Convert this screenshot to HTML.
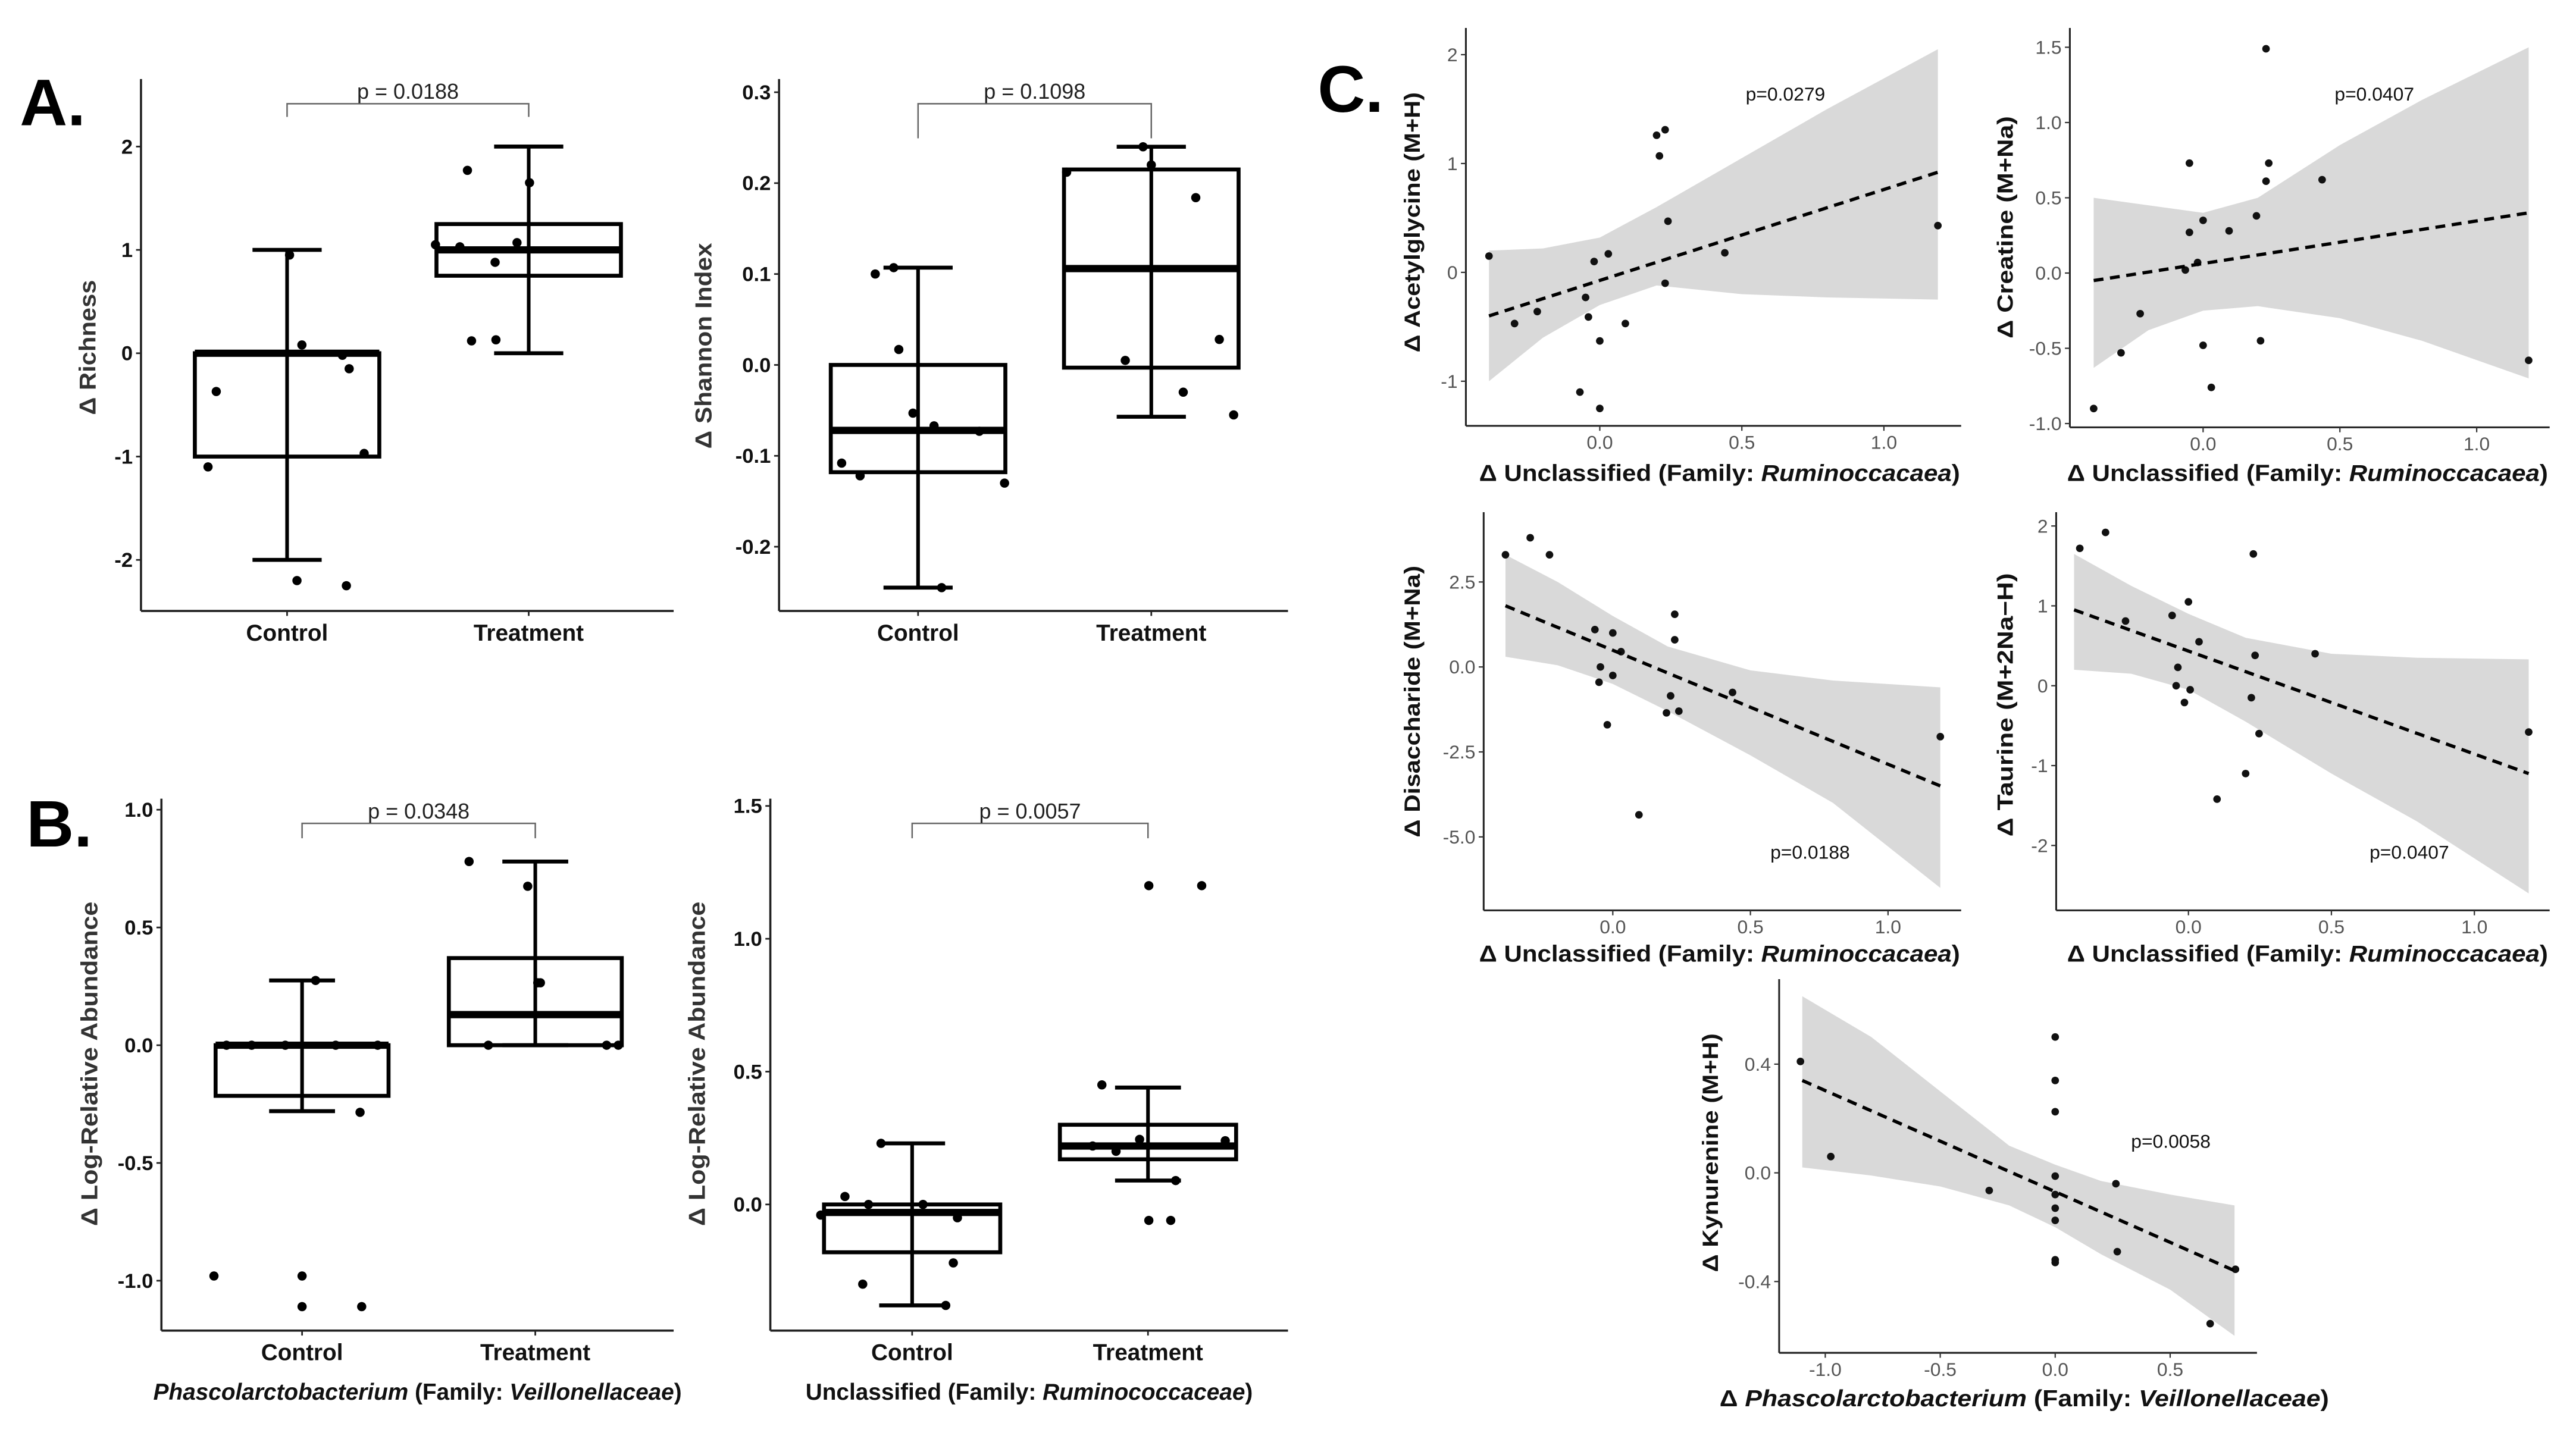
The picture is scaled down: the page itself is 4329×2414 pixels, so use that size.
<!DOCTYPE html>
<html><head><meta charset="utf-8">
<style>
html,body{margin:0;padding:0;background:#fff;}
svg{display:block;}
text{font-family:"Liberation Sans",sans-serif;}
.tickA{font-weight:bold;font-size:12.5px;fill:#111;}
.tickC{font-size:11.5px;fill:#555;font-family:"Liberation Sans Narrow","Liberation Sans",sans-serif;}
.ttl{font-weight:bold;fill:#111;}
</style></head>
<body>
<svg id="fig" width="4329" height="2414" viewBox="0 0 1564 872" preserveAspectRatio="none" xmlns="http://www.w3.org/2000/svg">
<text x="12" y="76" font-size="40" font-weight="bold">A.</text>
<text x="16" y="514" font-size="40" font-weight="bold">B.</text>
<text x="800" y="68" font-size="40" font-weight="bold">C.</text>
</svg>
<script>
// ---- Panel A/B box plot data ----
const boxCats = ["Control","Treatment"];
const richCtrlBox = [-2,-1,0,0,1];
const richTrtBox = [0,0.75,1,1.25,2];
const richCtrlPts = [-1.1,-0.37,0.95,0.08,-2.2,-2.25,-0.02,-0.15,-0.97];
const richCtrlJit = [-48,-43,1.5,9,6,36,33.6,37.7,46.8];
const richTrtPts = [1.05,1.03,1.77,0.12,0.88,0.13,1.07,1.65];
const richTrtJit = [-56.6,-41.8,-37.2,-34.7,-20.4,-19.9,-7.1,0.5];
const richTicks = [2,1,0,-1,-2];

const shanCtrlBox = [-0.245,-0.118,-0.072,0.0,0.107];
const shanTrtBox = [-0.057,-0.003,0.106,0.215,0.24];
const shanCtrlPts = [-0.108,-0.122,0.1,0.107,0.017,-0.053,-0.067,-0.245,-0.073,-0.13];
const shanCtrlJit = [-46.4,-35.2,-26,-14.8,-11.7,-3.1,9.7,14.3,37.2,52.5];
const shanTrtPts = [0.212,0.005,0.24,0.22,-0.03,0.184,0.028,-0.055];
const shanTrtJit = [-51.4,-15.8,-5,0,19.4,27,41.3,50];
const shanTicks = [0.3,0.2,0.1,0.0,-0.1,-0.2];

const phasCtrlBox = [-0.28,-0.215,0,0,0.275];
const phasTrtBox = [0,0,0.13,0.37,0.78];
const phasCtrlPts = [-0.98,-0.98,-1.11,-1.11,-0.285,0.275,0,0,0,0,0];
const phasCtrlJit = [-53.5,0,0,36.2,35.2,8.2,-45.9,-30.6,-10.2,20.4,45.9];
const phasTrtPts = [0.78,0.675,0.265,0.265,0,0,0];
const phasTrtJit = [-40.2,-4.6,1.5,3.1,-28.5,43.3,50.4];
const phasTicks = [1.0,0.5,0.0,-0.5,-1.0];

const unclCtrlBox = [-0.38,-0.18,-0.03,0.0,0.23];
const unclTrtBox = [0.09,0.17,0.22,0.3,0.44];
const unclCtrlPts = [0.03,0,-0.04,0,-0.05,-0.22,-0.3,-0.38,0.23];
const unclCtrlJit = [-40.8,-26.5,-55.5,6.6,27.5,25,-30,20.4,-18.9];
const unclTrtPts = [0.45,0.22,0.2,0.245,0.24,0.09,-0.06,-0.06,1.2,1.2];
const unclTrtJit = [-28,-33.6,-19.4,-5.1,46.9,16.8,0.5,13.8,0.5,32.6];
const unclTicks = [1.5,1.0,0.5,0.0];

// ---- Panel C scatter data ----
const acetX = [-0.39,-0.30,-0.22,-0.05,-0.04,-0.02,0,-0.07,0.0,0.03,0.09,0.20,0.21,0.23,0.23,0.24,0.44,1.19];
const acetY = [0.15,-0.47,-0.36,-0.23,-0.41,0.1,-0.63,-1.1,-1.25,0.17,-0.47,1.26,1.07,1.31,-0.1,0.47,0.18,0.43];
const acetFit = [-0.4,0.92];
const acetBandX = [-0.39,-0.2,0,0.2,0.5,0.8,1.19];
const acetBandUp = [0.2,0.22,0.32,0.6,1.05,1.5,2.05];
const acetBandLo = [-1.0,-0.6,-0.3,-0.12,-0.2,-0.23,-0.25];

const creaX = [-0.40,-0.30,-0.23,-0.065,-0.05,-0.05,-0.02,0,0,0.03,0.095,0.195,0.21,0.23,0.23,0.24,0.435,1.19];
const creaY = [-0.9,-0.53,-0.27,0.02,0.27,0.73,0.07,0.35,-0.48,-0.76,0.28,0.38,-0.45,0.61,1.49,0.73,0.62,-0.58];
const creaFit = [-0.05,0.4];
const creaBandX = [-0.4,-0.2,0,0.2,0.5,0.8,1.19];
const creaBandUp = [0.5,0.45,0.4,0.5,0.85,1.15,1.5];
const creaBandLo = [-0.63,-0.38,-0.25,-0.22,-0.3,-0.45,-0.7];

const disaX = [-0.39,-0.30,-0.23,-0.065,-0.045,-0.05,-0.02,0,0,0.03,0.095,0.195,0.21,0.225,0.225,0.24,0.435,1.19];
const disaY = [3.3,3.8,3.3,1.1,0,-0.45,-1.7,1.0,-0.25,0.45,-4.35,-1.35,-0.85,0.8,1.55,-1.3,-0.75,-2.05];
const disaFit = [1.8,-3.5];
const disaBandX = [-0.39,-0.2,0,0.2,0.5,0.8,1.19];
const disaBandUp = [3.3,2.5,1.5,0.6,-0.1,-0.4,-0.6];
const disaBandLo = [0.3,0.05,-0.5,-1.3,-2.6,-4.0,-6.5];

const taurX = [-0.38,-0.29,-0.22,-0.057,-0.043,-0.037,-0.014,0,0.006,0.037,0.1,0.2,0.22,0.227,0.233,0.247,0.443,1.19];
const taurY = [1.72,1.92,0.81,0.88,0,0.23,-0.21,1.05,-0.05,0.55,-1.42,-1.1,-0.15,1.65,0.38,-0.6,0.4,-0.58];
const taurFit = [0.95,-1.1];
const taurBandX = [-0.4,-0.2,0,0.2,0.5,0.8,1.19];
const taurBandUp = [1.65,1.25,0.9,0.6,0.4,0.35,0.33];
const taurBandLo = [0.2,0.15,-0.05,-0.45,-1.1,-1.7,-2.6];

const kynuX = [-1.108,-0.976,-0.287,0,0,0,0,0,0,0,0,0,0.264,0.27,0.674,0.784];
const kynuY = [0.41,0.06,-0.065,0.5,0.34,0.225,-0.012,-0.08,-0.13,-0.175,-0.32,-0.33,-0.04,-0.29,-0.555,-0.355];
const kynuFit = [0.34,-0.36];
const kynuBandX = [-1.1,-0.8,-0.5,-0.2,0,0.2,0.5,0.78];
const kynuBandUp = [0.65,0.5,0.3,0.1,0.03,-0.03,-0.08,-0.12];
const kynuBandLo = [0.02,-0.01,-0.05,-0.12,-0.2,-0.3,-0.43,-0.6];

const NS='http://www.w3.org/2000/svg';
const svg=document.getElementById('fig');
function mk(tag,attrs,parent){const e=document.createElementNS(NS,tag);for(const k in attrs)e.setAttribute(k,attrs[k]);(parent||svg).appendChild(e);return e;}
function lin(v0,p0,v1,p1){return v=>p0+(v-v0)*(p1-p0)/(v1-v0);}

function boxPanel(c){
  const g=mk('g',{});
  
  
  const y=lin(c.yv0,c.yp0,c.yv1,c.yp1);
  let e=mk('line',{x1:c.ax,y1:c.top,x2:c.ax,y2:c.bot,stroke:'#222','stroke-width':1.3},g);
  
  
  e=mk('line',{x1:c.ax,y1:c.bot,x2:c.xend,y2:c.bot,stroke:'#222','stroke-width':1.3},g);
  
  
  c.ticks.forEach(t=>{
    const ty=y(t);
    const tk=mk('line',{x1:c.ax-3,y1:ty,x2:c.ax,y2:ty,stroke:'#222','stroke-width':1},g);
    
    
    const lb=mk('text',{x:c.ax-5,y:ty+4.3,'text-anchor':'end',class:'tickA'},g);
    lb.textContent=c.fmt(t);
    
    
  });
  const boxes=[c.cb,c.tb], pts=[c.cp,c.tp], jit=[c.cj,c.tj];
  boxCats.forEach((cat,i)=>{
    const cx=c.cx[i], b=boxes[i];
    const tk=mk('line',{x1:cx,y1:c.bot,x2:cx,y2:c.bot+3,stroke:'#222','stroke-width':1},g);
    
    
    const lb=mk('text',{x:cx,y:c.bot+18,'text-anchor':'middle','font-size':14,'font-weight':'bold',fill:'#111'},g);
    lb.textContent=cat;
    
    
    const w=mk('line',{x1:cx,y1:y(b[0]),x2:cx,y2:y(b[4]),stroke:'#000','stroke-width':2.2},g);
    
    
    [b[0],b[4]].forEach(v=>{
      const cap=mk('line',{x1:cx-c.cap,y1:y(v),x2:cx+c.cap,y2:y(v),stroke:'#000','stroke-width':2.4},g);
      
      
    });
    const r=mk('rect',{x:cx-c.hw,y:y(b[3]),width:2*c.hw,height:Math.max(0.1,y(b[1])-y(b[3])),fill:'none',stroke:'#000','stroke-width':2.4},g);
    
    
    const m=mk('line',{x1:cx-c.hw,y1:y(b[2]),x2:cx+c.hw,y2:y(b[2]),stroke:'#000','stroke-width':4.4},g);
    
    
    pts[i].forEach((v,k)=>{
      const d=mk('circle',{cx:cx+jit[i][k],cy:y(v),r:2.8,fill:'#000'},g);
      
      
    });
  });
  const br=mk('path',{d:`M${c.cx[0]},${c.brY+c.legL} V${c.brY} H${c.cx[1]} V${c.brY+c.legR}`,fill:'none',stroke:'#666','stroke-width':0.9},g);
  
  
  const pt=mk('text',{x:(c.cx[0]+c.cx[1])/2,y:c.brY-3,'text-anchor':'middle','font-size':13,fill:'#222'},g);
  pt.textContent=c.p;
  
  
  const yt=mk('text',{x:0,y:0,transform:`translate(${c.ytx},${c.yty}) rotate(-90)`,'text-anchor':'middle','font-size':14,'font-weight':'bold',fill:'#333',textLength:c.ytl,lengthAdjust:'spacingAndGlyphs'},g);
  yt.textContent=c.ytitle;
  
  
  if(c.xtitle){
    const xt=mk('text',{x:(c.ax+c.xend)/2,y:c.bot+42,'text-anchor':'middle','font-size':14,'font-weight':'bold',fill:'#111'},g);
    xt.innerHTML=c.xtitle;
    
    
  }
}
const f1=t=>t<0?'-'+Math.abs(t):String(t);
const f1d=t=>(t<0?'-':'')+Math.abs(t).toFixed(1);
boxPanel({name:'richness-plot',ax:85.6,top:48,bot:371,xend:409,yv0:0,yp0:214.5,yv1:2,yp1:89,ticks:richTicks,fmt:f1,cx:[174.3,321],hw:56,cap:21,
  cb:richCtrlBox,tb:richTrtBox,cp:richCtrlPts,cj:richCtrlJit,tp:richTrtPts,tj:richTrtJit,brY:63,legL:8,legR:8,p:'p = 0.0188',ytitle:'\u0394 Richness',ytx:58,yty:211,ytl:82});
boxPanel({name:'shannon-plot',ax:473,top:48,bot:371,xend:782,yv0:0,yp0:221.6,yv1:0.3,yp1:56,ticks:shanTicks,fmt:f1d,cx:[557.4,699],hw:53,cap:21,
  cb:shanCtrlBox,tb:shanTrtBox,cp:shanCtrlPts,cj:shanCtrlJit,tp:shanTrtPts,tj:shanTrtJit,brY:63,legL:21,legR:21,p:'p = 0.1098',ytitle:'\u0394 Shannon Index',ytx:432,yty:210,ytl:125});
boxPanel({name:'phascolarctobacterium-plot',ax:98,top:485,bot:808,xend:409,yv0:0,yp0:634.7,yv1:1,yp1:491.7,ticks:phasTicks,fmt:f1d,cx:[183.4,325],hw:52.5,cap:20,
  cb:phasCtrlBox,tb:phasTrtBox,cp:phasCtrlPts,cj:phasCtrlJit,tp:phasTrtPts,tj:phasTrtJit,brY:500,legL:9,legR:9,p:'p = 0.0348',ytitle:'\u0394 Log-Relative Abundance',ytx:59,yty:646,ytl:197,
  xtitle:'<tspan font-style="italic">Phascolarctobacterium</tspan> (Family: <tspan font-style="italic">Veillonellaceae</tspan>)'});
boxPanel({name:'unclassified-ruminococcaceae-plot',ax:467.7,top:485,bot:808,xend:782,yv0:0,yp0:731.4,yv1:1.5,yp1:489.4,ticks:unclTicks,fmt:f1d,cx:[553.8,697],hw:53.5,cap:20,
  cb:unclCtrlBox,tb:unclTrtBox,cp:unclCtrlPts,cj:unclCtrlJit,tp:unclTrtPts,tj:unclTrtJit,brY:500,legL:9,legR:9,p:'p = 0.0057',ytitle:'\u0394 Log-Relative Abundance',ytx:428,yty:646,ytl:197,
  xtitle:'Unclassified (Family: <tspan font-style="italic">Ruminococcaceae</tspan>)'});

function scatterPanel(c){
  const g=mk('g',{});
  
  
  const x=lin(c.xv0,c.xp0,c.xv1,c.xp1), y=lin(c.yv0,c.yp0,c.yv1,c.yp1);
  let d='';
  c.bx.forEach((v,i)=>{d+=(i?'L':'M')+x(v)+','+y(c.bu[i]);});
  for(let i=c.bx.length-1;i>=0;i--){d+='L'+x(c.bx[i])+','+y(c.bl[i]);}
  const band=mk('path',{d:d+'Z',fill:'#d9d9d9',stroke:'none'},g);
  
  
  let e=mk('line',{x1:c.ax,y1:c.top,x2:c.ax,y2:c.bot,stroke:'#222','stroke-width':1.1},g);
  
  
  e=mk('line',{x1:c.ax,y1:c.bot,x2:c.xend,y2:c.bot,stroke:'#222','stroke-width':1.1},g);
  
  
  c.xt.forEach(t=>{
    const tk=mk('line',{x1:x(t),y1:c.bot,x2:x(t),y2:c.bot+3,stroke:'#333','stroke-width':0.8},g);
    
    
    const lb=mk('text',{x:x(t),y:c.bot+14,'text-anchor':'middle',class:'tickC'},g);
    lb.textContent=c.fx(t);
    
    
  });
  c.yt.forEach(t=>{
    const tk=mk('line',{x1:c.ax-3,y1:y(t),x2:c.ax,y2:y(t),stroke:'#333','stroke-width':0.8},g);
    
    
    const lb=mk('text',{x:c.ax-5,y:y(t)+4,'text-anchor':'end',class:'tickC'},g);
    lb.textContent=c.fy(t);
    
    
  });
  c.px.forEach((v,i)=>{
    const p=mk('circle',{cx:x(v),cy:y(c.py[i]),r:2.3,fill:'#111'},g);
    
    
  });
  const fl=mk('line',{x1:x(c.bx[0]),y1:y(c.fit[0]),x2:x(c.bx[c.bx.length-1]),y2:y(c.fit[1]),stroke:'#000','stroke-width':2,'stroke-dasharray':'6,4'},g);
  
  
  const pl=mk('text',{x:c.plx,y:c.ply,'text-anchor':'middle','font-size':11.5,fill:'#111',class:'tickC',style:'fill:#111'},g);
  pl.textContent=c.p;
  
  
  const xt=mk('text',{x:c.xtx,y:c.xty,'text-anchor':'middle','font-size':14,'font-weight':'bold',fill:'#111',textLength:c.xtl,lengthAdjust:'spacingAndGlyphs'},g);
  xt.innerHTML=c.xtitle;
  
  
  const yt=mk('text',{x:0,y:0,transform:`translate(${c.ytx},${c.yty}) rotate(-90)`,'text-anchor':'middle','font-size':13.5,'font-weight':'bold',fill:'#111',textLength:c.ytl,lengthAdjust:'spacingAndGlyphs'},g);
  yt.textContent=c.ytitle;
  
  
}
const fx1=t=>(t<0?'-':'')+Math.abs(t).toFixed(1);
const fi=t=>(t<0?'-':'')+Math.abs(t);
const unclT='\u0394 Unclassified (Family: <tspan font-style="italic">Ruminoccacaea</tspan>)';
const xT=[0,0.5,1.0];
scatterPanel({name:'acetylglycine-scatter',ax:890,top:17,bot:258.6,xend:1190.7,xv0:0,xp0:971.3,xv1:1,xp1:1143.8,yv0:0,yp0:165.4,yv1:1,yp1:99.3,
  xt:xT,yt:[2,1,0,-1],fx:fx1,fy:fi,px:acetX,py:acetY,fit:acetFit,bx:acetBandX,bu:acetBandUp,bl:acetBandLo,p:'p=0.0279',plx:1084,ply:61,
  xtitle:unclT,xtx:1044,xty:292,xtl:292,ytitle:'\u0394 Acetylglycine (M+H)',ytx:862,yty:135,ytl:158});
scatterPanel({name:'creatine-scatter',ax:1256.7,top:17,bot:259.5,xend:1548,xv0:0,xp0:1337.6,xv1:1,xp1:1503.7,yv0:0,yp0:165.8,yv1:1.5,yp1:28.7,
  xt:xT,yt:[1.5,1.0,0.5,0.0,-0.5,-1.0],fx:fx1,fy:fx1,px:creaX,py:creaY,fit:creaFit,bx:creaBandX,bu:creaBandUp,bl:creaBandLo,p:'p=0.0407',plx:1441.6,ply:61,
  xtitle:unclT,xtx:1401,xty:292,xtl:292,ytitle:'\u0394 Creatine (M+Na)',ytx:1222,yty:138,ytl:135});
scatterPanel({name:'disaccharide-scatter',ax:900.8,top:311,bot:552.8,xend:1190.7,xv0:0,xp0:979.2,xv1:1,xp1:1146.3,yv0:0,yp0:405,yv1:2.5,yp1:353.4,
  xt:xT,yt:[2.5,0.0,-2.5,-5.0],fx:fx1,fy:fx1,px:disaX,py:disaY,fit:disaFit,bx:disaBandX,bu:disaBandUp,bl:disaBandLo,p:'p=0.0188',plx:1099,ply:521.5,
  xtitle:unclT,xtx:1044,xty:584,xtl:292,ytitle:'\u0394 Disaccharide (M+Na)',ytx:862,yty:426,ytl:165});
scatterPanel({name:'taurine-scatter',ax:1248.4,top:311,bot:552.8,xend:1548,xv0:0,xp0:1328.7,xv1:1,xp1:1502.3,yv0:0,yp0:416.4,yv1:1,yp1:367.9,
  xt:xT,yt:[2,1,0,-1,-2],fx:fx1,fy:fi,px:taurX,py:taurY,fit:taurFit,bx:taurBandX,bu:taurBandUp,bl:taurBandLo,p:'p=0.0407',plx:1462.8,ply:521.5,
  xtitle:unclT,xtx:1401,xty:584,xtl:292,ytitle:'\u0394 Taurine (M+2Na\u2212H)',ytx:1222,yty:428,ytl:160});
scatterPanel({name:'kynurenine-scatter',ax:1080.2,top:594.6,bot:821.5,xend:1370.3,xv0:0,xp0:1247.8,xv1:0.5,xp1:1317.6,yv0:0,yp0:712.2,yv1:0.4,yp1:646.2,
  xt:[-1.0,-0.5,0.0,0.5],yt:[0.4,0.0,-0.4],fx:fx1,fy:fx1,px:kynuX,py:kynuY,fit:kynuFit,bx:kynuBandX,bu:kynuBandUp,bl:kynuBandLo,p:'p=0.0058',plx:1318,ply:697,
  xtitle:'\u0394 <tspan font-style="italic">Phascolarctobacterium</tspan> (Family: <tspan font-style="italic">Veillonellaceae</tspan>)',xtx:1229,xty:854,xtl:370,
  ytitle:'\u0394 Kynurenine (M+H)',ytx:1043,yty:700,ytl:145});
</script>
</body></html>
